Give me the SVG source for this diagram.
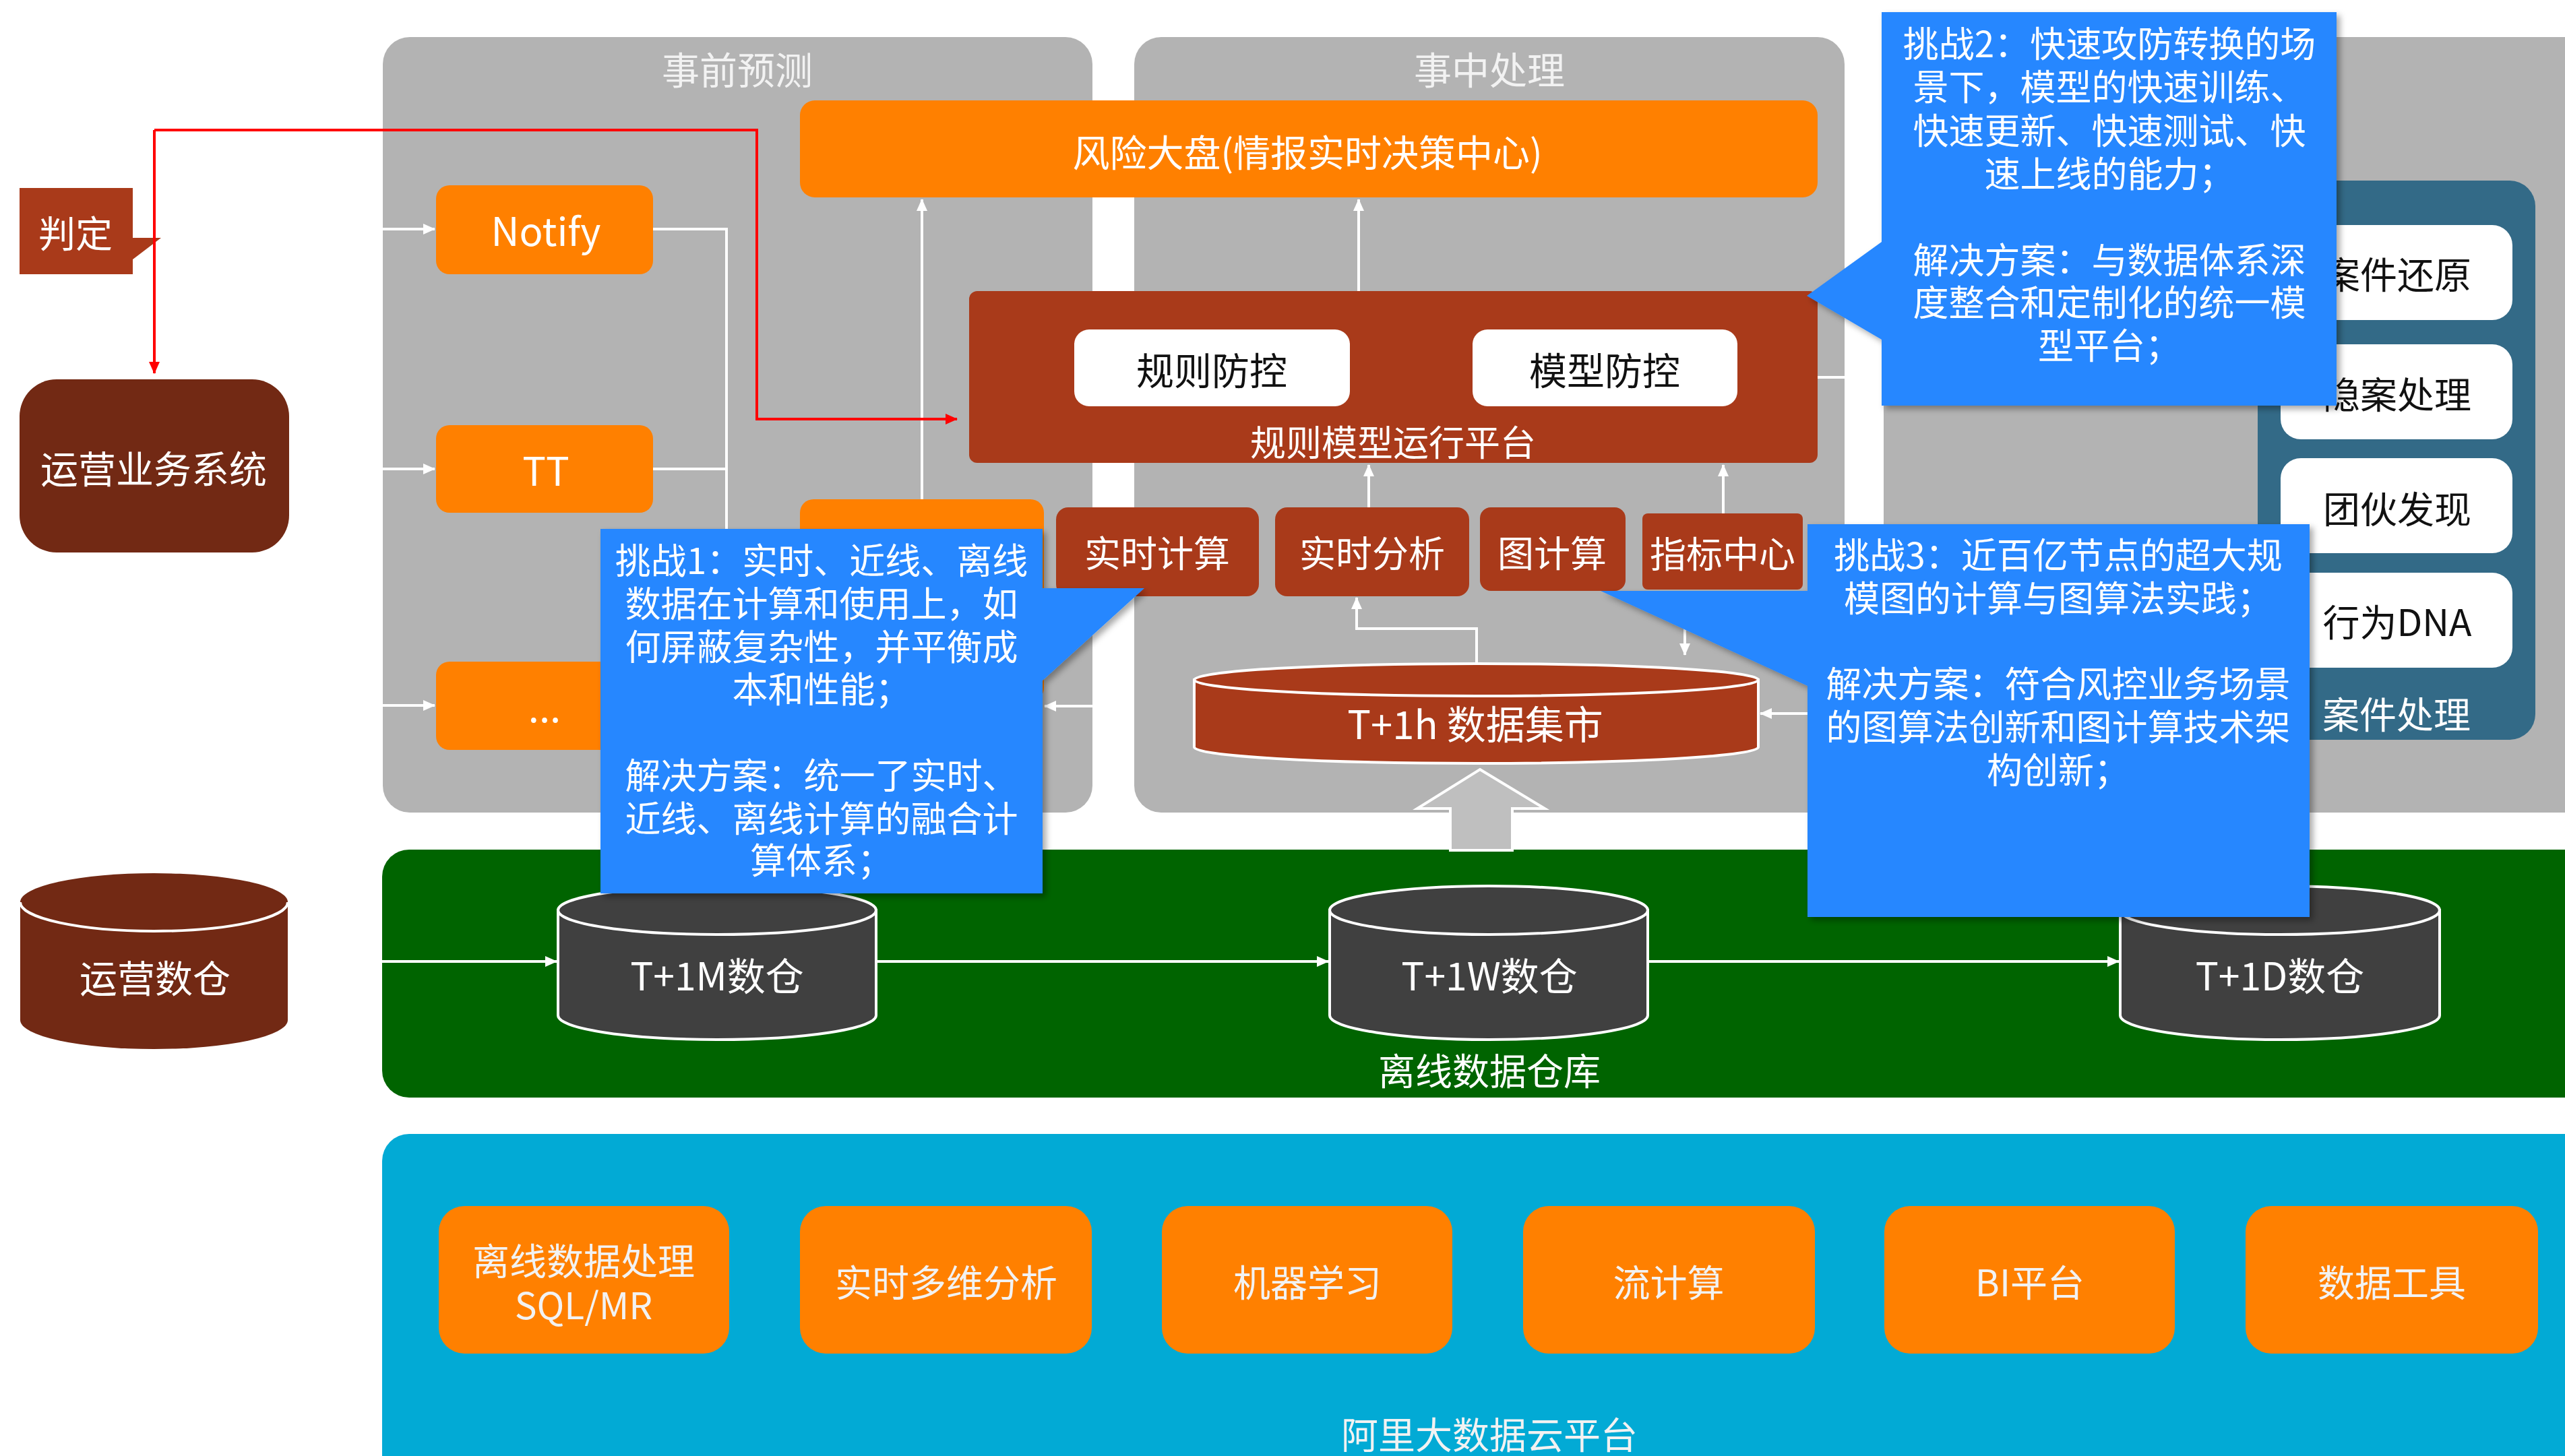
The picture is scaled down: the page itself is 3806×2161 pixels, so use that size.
<svg xmlns="http://www.w3.org/2000/svg" width="3806" height="2161" viewBox="0 0 3806 2161">
<style>
.t{font-family:"Noto Sans CJK SC","Noto Sans",sans-serif;text-anchor:middle;dominant-baseline:central}
.w{fill:#FFFFFF}
.lt{fill:#F2F2F2}
.k{fill:#111111}
.panel{fill:#B3B3B3}
.org{fill:#FF8000}
.red{fill:#A93A1A}
.brn{fill:#722914}
.call{fill:#2787FF;filter:url(#sh)}
.wl{stroke:#FFFFFF;stroke-width:4;fill:none}
.rl{stroke:#FF0000;stroke-width:4;fill:none}
.cyl{stroke:#FFFFFF;stroke-width:4}
</style>
<defs>
<marker id="aw" markerUnits="userSpaceOnUse" markerWidth="18" markerHeight="16" refX="17" refY="8" orient="auto"><path d="M0,0 L18,8 L0,16 Z" fill="#FFFFFF"/></marker>
<marker id="ar" markerUnits="userSpaceOnUse" markerWidth="18" markerHeight="16" refX="17" refY="8" orient="auto"><path d="M0,0 L18,8 L0,16 Z" fill="#FF0000"/></marker>
<filter id="sh" x="-5%" y="-5%" width="115%" height="115%"><feDropShadow dx="5" dy="5" stdDeviation="5" flood-color="#000" flood-opacity="0.35"/></filter>
</defs>
<rect width="3806" height="2161" fill="#FFFFFF"/>

<!-- panels -->
<g id="panel-pre">
<rect class="panel" x="568" y="55" width="1053" height="1151" rx="40"/>
<text class="t lt" x="1094" y="100" font-size="56">事前预测</text>
</g>
<g id="panel-mid">
<rect class="panel" x="1683" y="55" width="1054" height="1151" rx="40"/>
<text class="t lt" x="2210" y="100" font-size="56">事中处理</text>
</g>
<g id="panel-post">
<rect class="panel" x="2795" y="55" width="1060" height="1151" rx="40"/>
</g>
<g id="case-panel">
<rect x="3350" y="268" width="412" height="830" rx="38" fill="#336A87"/>
<text class="t w" x="3556" y="1057" font-size="55">案件处理</text>
</g>
<g id="case-restore"><rect x="3384" y="334" width="344" height="141" rx="30" fill="#FFFFFF"/><text class="t k" x="3557" y="404" font-size="55">案件还原</text></g>
<g id="case-hidden"><rect x="3384" y="511" width="344" height="141" rx="30" fill="#FFFFFF"/><text class="t k" x="3557" y="582" font-size="55">隐案处理</text></g>
<g id="case-gang"><rect x="3384" y="680" width="344" height="141" rx="30" fill="#FFFFFF"/><text class="t k" x="3557" y="752" font-size="55">团伙发现</text></g>
<g id="case-dna"><rect x="3384" y="850" width="344" height="141" rx="30" fill="#FFFFFF"/><text class="t k" x="3557" y="920" font-size="55">行为DNA</text></g>

<g id="offline-dw">
<rect x="567" y="1261" width="3290" height="368" rx="40" fill="#006400"/>
<text class="t w" x="2210" y="1586" font-size="55">离线数据仓库</text>
</g>
<g id="ali-cloud">
<rect x="567" y="1683" width="3290" height="520" rx="40" fill="#02AAD5"/>
<text class="t lt" x="2210" y="2126" font-size="55">阿里大数据云平台</text>
</g>

<!-- left side -->
<g id="judge">
<path class="red" d="M29,279 H197 V353 L239,353 L197,385 V407 H29 Z"/>
<text class="t w" x="112" y="343" font-size="55">判定</text>
</g>
<g id="ops-system">
<rect class="brn" x="29" y="563" width="400" height="257" rx="55"/>
<text class="t w" x="228" y="692" font-size="56">运营业务系统</text>
</g>
<g id="ops-dw">
<path class="brn" d="M30,1339 L30,1514 A198.5,43 0 0 0 427,1514 L427,1339 A198.5,43 0 0 0 30,1339 Z"/>
<path d="M30,1339 A198.5,43 0 0 0 427,1339" stroke="#FFFFFF" stroke-width="4" fill="none"/>
<text class="t w" x="230" y="1448" font-size="56">运营数仓</text>
</g>

<!-- pre-panel nodes -->
<g id="notify"><rect class="org" x="647" y="275" width="322" height="132" rx="20"/><text class="t w" x="810" y="340" font-size="58">Notify</text></g>
<g id="tt"><rect class="org" x="647" y="631" width="322" height="130" rx="20"/><text class="t w" x="810" y="696" font-size="58">TT</text></g>
<g id="etc"><rect class="org" x="647" y="982" width="322" height="131" rx="20"/><text class="t w" x="808" y="1047" font-size="58">...</text></g>
<g id="hidden-box"><rect class="org" x="1187" y="741" width="362" height="300" rx="20"/></g>

<!-- mid-panel nodes -->
<g id="risk-board"><rect class="org" x="1187" y="149" width="1510" height="144" rx="22"/><text class="t w" x="1940" y="223" font-size="55">风险大盘(情报实时决策中心)</text></g>
<g id="rule-platform">
<rect class="red" x="1438" y="432" width="1259" height="255" rx="12"/>
<text class="t w" x="2067" y="654" font-size="53">规则模型运行平台</text>
</g>
<g id="rule-ctrl"><rect x="1594" y="489" width="409" height="114" rx="22" fill="#FFFFFF"/><text class="t k" x="1798" y="546" font-size="56">规则防控</text></g>
<g id="model-ctrl"><rect x="2185" y="489" width="393" height="114" rx="22" fill="#FFFFFF"/><text class="t k" x="2381" y="546" font-size="56">模型防控</text></g>
<g id="rt-compute"><rect class="red" x="1567" y="753" width="301" height="132" rx="18"/><text class="t w" x="1717" y="818" font-size="54">实时计算</text></g>
<g id="rt-analysis"><rect class="red" x="1892" y="753" width="288" height="132" rx="18"/><text class="t w" x="2036" y="818" font-size="54">实时分析</text></g>
<g id="graph-compute"><rect class="red" x="2196" y="753" width="216" height="124" rx="16"/><text class="t w" x="2303" y="818" font-size="54">图计算</text></g>
<g id="metric-center"><rect class="red" x="2437" y="762" width="238" height="113" rx="8"/><text class="t w" x="2556" y="819" font-size="54">指标中心</text></g>
<g id="data-mart">
<path class="red cyl" d="M1772,1009 L1772,1109 A418.5,24 0 0 0 2609,1109 L2609,1009 Z"/>
<ellipse class="red cyl" cx="2190.5" cy="1009" rx="418.5" ry="24"/>
<text class="t w" x="2189" y="1072" font-size="58">T+1h 数据集市</text>
</g>

<!-- offline warehouses -->
<g id="dw-1m">
<path class="cyl" fill="#404040" d="M828,1351 L828,1507 A236,36 0 0 0 1300,1507 L1300,1351 Z"/>
<ellipse class="cyl" fill="#404040" cx="1064" cy="1351" rx="236" ry="36"/>
<text class="t w" x="1064" y="1445" font-size="57">T+1M数仓</text>
</g>
<g id="dw-1w">
<path class="cyl" fill="#404040" d="M1973,1351 L1973,1507 A236,36 0 0 0 2445,1507 L2445,1351 Z"/>
<ellipse class="cyl" fill="#404040" cx="2209" cy="1351" rx="236" ry="36"/>
<text class="t w" x="2210" y="1445" font-size="57">T+1W数仓</text>
</g>
<g id="dw-1d">
<path class="cyl" fill="#404040" d="M3146,1351 L3146,1507 A237,36 0 0 0 3620,1507 L3620,1351 Z"/>
<ellipse class="cyl" fill="#404040" cx="3383" cy="1351" rx="237" ry="36"/>
<text class="t w" x="3383" y="1445" font-size="57">T+1D数仓</text>
</g>

<!-- cloud tools -->
<g id="tool-offline"><rect class="org" x="651" y="1790" width="431" height="219" rx="38"/><text class="t lt" font-size="55"><tspan x="866" y="1868">离线数据处理</tspan><tspan x="866" y="1934">SQL/MR</tspan></text></g>
<g id="tool-olap"><rect class="org" x="1187" y="1790" width="433" height="219" rx="38"/><text class="t lt" x="1404" y="1900" font-size="55">实时多维分析</text></g>
<g id="tool-ml"><rect class="org" x="1724" y="1790" width="431" height="219" rx="38"/><text class="t lt" x="1940" y="1900" font-size="55">机器学习</text></g>
<g id="tool-stream"><rect class="org" x="2260" y="1790" width="433" height="219" rx="38"/><text class="t lt" x="2476" y="1900" font-size="55">流计算</text></g>
<g id="tool-bi"><rect class="org" x="2796" y="1790" width="431" height="219" rx="38"/><text class="t lt" x="3012" y="1900" font-size="55">BI平台</text></g>
<g id="tool-data"><rect class="org" x="3332" y="1790" width="434" height="219" rx="38"/><text class="t lt" x="3549" y="1900" font-size="55">数据工具</text></g>

<!-- connectors -->
<g id="connectors">
<path class="wl" d="M568,340 H645" marker-end="url(#aw)"/>
<path class="wl" d="M568,696 H645" marker-end="url(#aw)"/>
<path class="wl" d="M568,1047 H645" marker-end="url(#aw)"/>
<path class="wl" d="M969,340 H1078 V1000"/>
<path class="wl" d="M969,696 H1078"/>
<path class="wl" d="M1368,741 V296" marker-end="url(#aw)"/>
<path class="wl" d="M2016,432 V296" marker-end="url(#aw)"/>
<path class="wl" d="M2031,753 V690" marker-end="url(#aw)"/>
<path class="wl" d="M2557,762 V690" marker-end="url(#aw)"/>
<path class="wl" d="M2191,985 V933 H2013 V887" marker-end="url(#aw)"/>
<path class="wl" d="M2500,877 V972" marker-end="url(#aw)"/>
<path class="wl" d="M2700,1059 H2612" marker-end="url(#aw)"/>
<path class="wl" d="M1621,1048 H1550" marker-end="url(#aw)"/>
<path class="wl" d="M2697,560 H2795"/>
<path class="wl" d="M567,1427 H826" marker-end="url(#aw)"/>
<path class="wl" d="M1300,1427 H1971" marker-end="url(#aw)"/>
<path class="wl" d="M2445,1427 H3144" marker-end="url(#aw)"/>
<path d="M2196,1142 L2292,1200 L2244,1200 L2244,1262 L2152,1262 L2152,1200 L2103,1200 Z" fill="#BFBFBF" stroke="#FFFFFF" stroke-width="4"/>
<path class="rl" d="M229,193 V554" marker-end="url(#ar)"/>
<path class="rl" d="M229,193 H1123 V622 H1420" marker-end="url(#ar)"/>
</g>

<!-- callouts -->
<g id="challenge-1">
<path class="call" d="M891,785 H1547 V873 L1698,873 L1547,1010 V1326 H891 Z"/>
<text class="t w" font-size="53"><tspan x="1219" y="829">挑战1：实时、近线、离线</tspan><tspan x="1219" y="893">数据在计算和使用上，如</tspan><tspan x="1219" y="957">何屏蔽复杂性，并平衡成</tspan><tspan x="1219" y="1020">本和性能；</tspan><tspan x="1219" y="1148">解决方案：统一了实时、</tspan><tspan x="1219" y="1212">近线、离线计算的融合计</tspan><tspan x="1219" y="1274">算体系；</tspan></text>
</g>
<g id="challenge-2">
<path class="call" d="M2792,18 H3467 V602 H2792 V504 L2681,439 L2792,359 Z"/>
<text class="t w" font-size="53"><tspan x="3130" y="62">挑战2：快速攻防转换的场</tspan><tspan x="3130" y="126">景下，模型的快速训练、</tspan><tspan x="3130" y="191">快速更新、快速测试、快</tspan><tspan x="3130" y="255">速上线的能力；</tspan><tspan x="3130" y="383">解决方案：与数据体系深</tspan><tspan x="3130" y="446">度整合和定制化的统一模</tspan><tspan x="3130" y="510">型平台；</tspan></text>
</g>
<g id="challenge-3">
<path class="call" d="M2682,778 H3427 V1361 H2682 V1018 L2375,877 H2682 Z"/>
<text class="t w" font-size="53"><tspan x="3054" y="821">挑战3：近百亿节点的超大规</tspan><tspan x="3054" y="885">模图的计算与图算法实践；</tspan><tspan x="3054" y="1012">解决方案：符合风控业务场景</tspan><tspan x="3054" y="1076">的图算法创新和图计算技术架</tspan><tspan x="3054" y="1140">构创新；</tspan></text>
</g>
</svg>
